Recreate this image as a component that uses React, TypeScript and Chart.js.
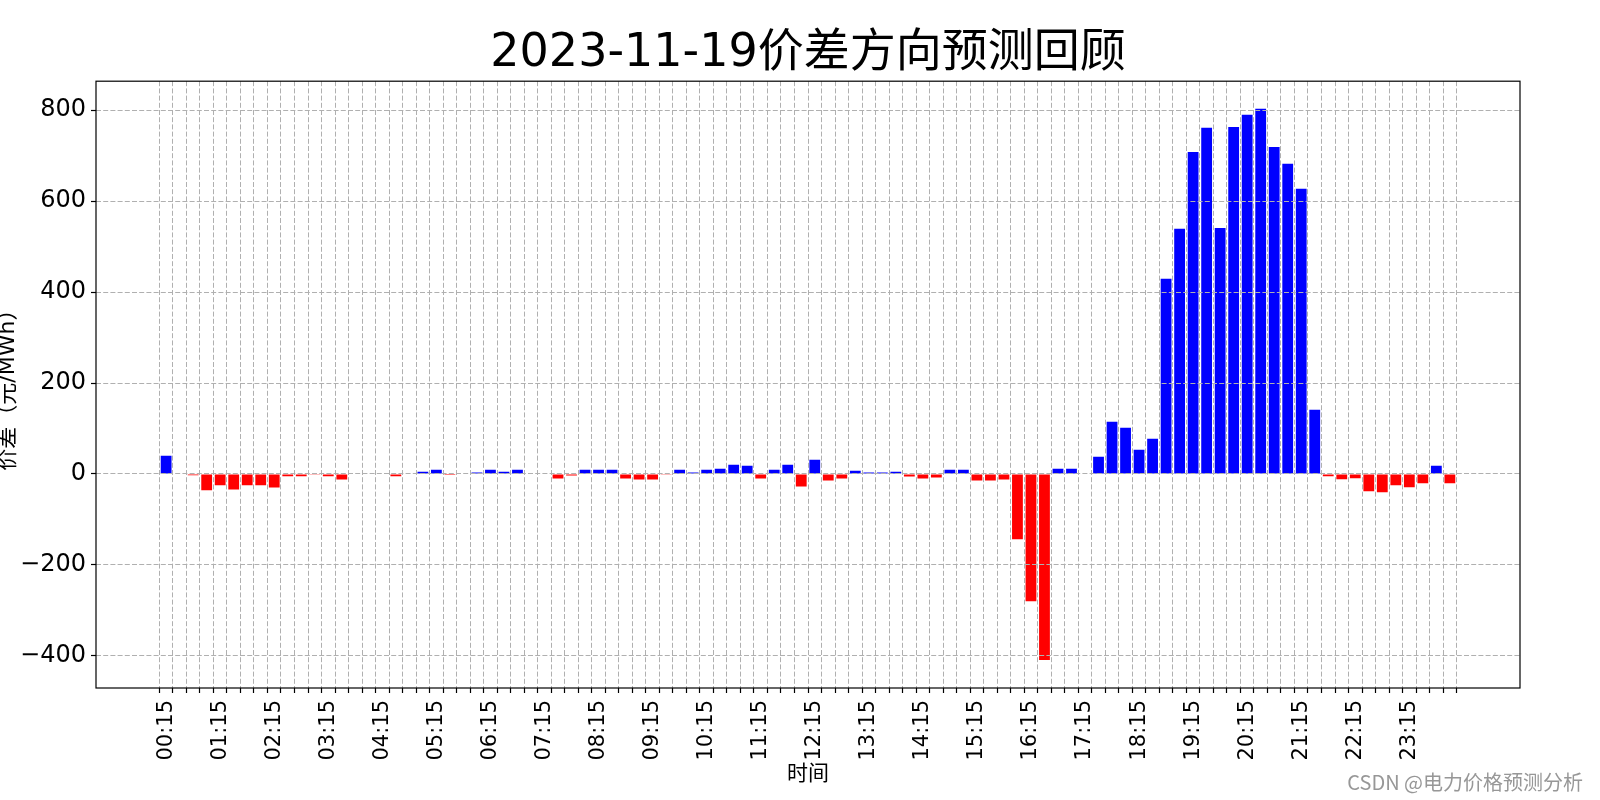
import { useEffect, useRef } from 'react';
import { Chart, registerables } from 'chart.js';

Chart.register(...registerables);

const TITLE = '2023-11-19价差方向预测回顾';
const X_TITLE = '时间';
const Y_TITLE = '价差（元/MWh）';
const WATERMARK = 'CSDN @电力价格预测分析';

const times = [
  '00:15', '00:30', '00:45', '01:00', '01:15', '01:30', '01:45', '02:00',
  '02:15', '02:30', '02:45', '03:00', '03:15', '03:30', '03:45', '04:00',
  '04:15', '04:30', '04:45', '05:00', '05:15', '05:30', '05:45', '06:00',
  '06:15', '06:30', '06:45', '07:00', '07:15', '07:30', '07:45', '08:00',
  '08:15', '08:30', '08:45', '09:00', '09:15', '09:30', '09:45', '10:00',
  '10:15', '10:30', '10:45', '11:00', '11:15', '11:30', '11:45', '12:00',
  '12:15', '12:30', '12:45', '13:00', '13:15', '13:30', '13:45', '14:00',
  '14:15', '14:30', '14:45', '15:00', '15:15', '15:30', '15:45', '16:00',
  '16:15', '16:30', '16:45', '17:00', '17:15', '17:30', '17:45', '18:00',
  '18:15', '18:30', '18:45', '19:00', '19:15', '19:30', '19:45', '20:00',
  '20:15', '20:30', '20:45', '21:00', '21:15', '21:30', '21:45', '22:00',
  '22:15', '22:30', '22:45', '23:00', '23:15', '23:30', '23:45', '24:00',
];

const diffs = [
  40, 0, -3, -36, -25, -34, -25, -25,
  -30, -5, -5, -1.5, -5, -12, 0, 0,
  0, -5, 0, 5, 9.5, -2, 0, 3,
  9.5, 5, 9.5, 0, 0, -10, -3.6, 9.5,
  9.5, 9.5, -10, -12.4, -12.4, -1.5, 9.5, 3,
  9.5, 11.7, 20.4, 18, -10, 9.5, 20.4, -27.7,
  31.4, -14.6, -10, 7.3, 3, 3, 5, -5.8,
  -10, -8, 9.5, 9.5, -14.6, -14.6, -12.4, -143.8,
  -279.6, -408.8, 11.7, 11.7, 0, 38, 115, 101.8,
  53.5, 77.7, 429, 539, 708, 761, 541, 763,
  790, 803, 719, 682, 627, 141, -5, -11.7,
  -9.5, -38, -40, -25, -29, -20.4, 18, -20.4,
];

const yTicks = [-400, -200, 0, 200, 400, 600, 800];
const labelEvery = 4;

const POS_COLOR = '#0000ff';
const NEG_COLOR = '#ff0000';

export default function App() {
  const ref = useRef<HTMLCanvasElement>(null);

  useEffect(() => {
    if (!ref.current) return;
    const font = '"DejaVu Sans", "Noto Sans CJK SC", sans-serif';
    const framePlugin = {
      id: 'frame',
      afterDraw(chart: any) {
        const { ctx, chartArea: a } = chart;
        ctx.save();
        ctx.strokeStyle = '#000';
        ctx.lineWidth = 1.2;
        ctx.strokeRect(a.left, a.top, a.right - a.left, a.bottom - a.top);
        ctx.font = '20px "Noto Sans CJK SC", sans-serif';
        ctx.fillStyle = 'rgba(140,140,140,0.9)';
        ctx.textAlign = 'right';
        ctx.textBaseline = 'middle';
        ctx.fillText(WATERMARK, 1583, 782);
        ctx.restore();
      },
    };

    const gridOpts = {
      color: '#b0b0b0',
      lineWidth: 1,
      z: 1,
      tickColor: '#000',
      tickLength: 5,
      tickWidth: 1.2,
      tickBorderDash: [],
    };

    const chart = new Chart(ref.current, {
      type: 'bar',
      data: {
        datasets: [
          {
            data: diffs.map((v, i) => ({ x: i, y: v })),
            backgroundColor: diffs.map((v) => (v >= 0 ? POS_COLOR : NEG_COLOR)),
            barPercentage: 0.8,
            categoryPercentage: 1,
            borderWidth: 0,
          },
        ],
      },
      options: {
        responsive: false,
        animation: false,
        layout: { padding: { left: 0, right: 80, top: 0, bottom: 0 } },
        plugins: {
          legend: { display: false },
          tooltip: { enabled: false },
          title: {
            display: true,
            text: TITLE,
            fullSize: false,
            color: '#000',
            font: { family: font, size: 46, weight: 'normal', lineHeight: 1.2 },
            padding: { top: 26, bottom: 0 },
          },
        },
        scales: {
          x: {
            type: 'linear',
            min: -5.19,
            max: 100.19,
            offset: false,
            afterBuildTicks: (s: any) => {
              s.ticks = times.map((_, i) => ({ value: i }));
            },
            afterFit: (s: any) => {
              s.height = 112;
            },
            ticks: {
              autoSkip: false,
              maxRotation: 90,
              minRotation: 90,
              color: '#000',
              font: { family: font, size: 21 },
              padding: 7,
              callback: (v: any) => (v % labelEvery === 0 ? times[v] : ''),
            },
            grid: gridOpts,
            border: { display: false, dash: [5, 2.2] },
            title: {
              display: true,
              text: X_TITLE,
              color: '#000',
              font: { family: font, size: 21, lineHeight: 1.2 },
              padding: { top: 0, bottom: 13 },
            },
          },
          y: {
            type: 'linear',
            min: -470.6,
            max: 863.6,
            afterBuildTicks: (s: any) => {
              s.ticks = yTicks.map((v) => ({ value: v }));
            },
            afterFit: (s: any) => {
              s.width = 96;
            },
            ticks: {
              color: '#000',
              font: { family: font, size: 24 },
              padding: 5,
              callback: (v: any) => (v < 0 ? '\u2212' + Math.abs(v) : String(v)),
            },
            grid: gridOpts,
            border: { display: false, dash: [5, 2.2] },
            title: {
              display: true,
              text: Y_TITLE,
              color: '#000',
              font: { family: font, size: 22, lineHeight: 1.2 },
              padding: { top: -5, bottom: 0 },
            },
          },
        },
      },
      plugins: [framePlugin],
    } as any);

    return () => chart.destroy();
  }, []);

  return (
    <div style={{ position: 'absolute', left: 0, top: 0, width: 1600, height: 800, background: '#fff' }}>
      <canvas ref={ref} width={1600} height={800} style={{ width: 1600, height: 800, display: 'block' }} />
    </div>
  );
}
